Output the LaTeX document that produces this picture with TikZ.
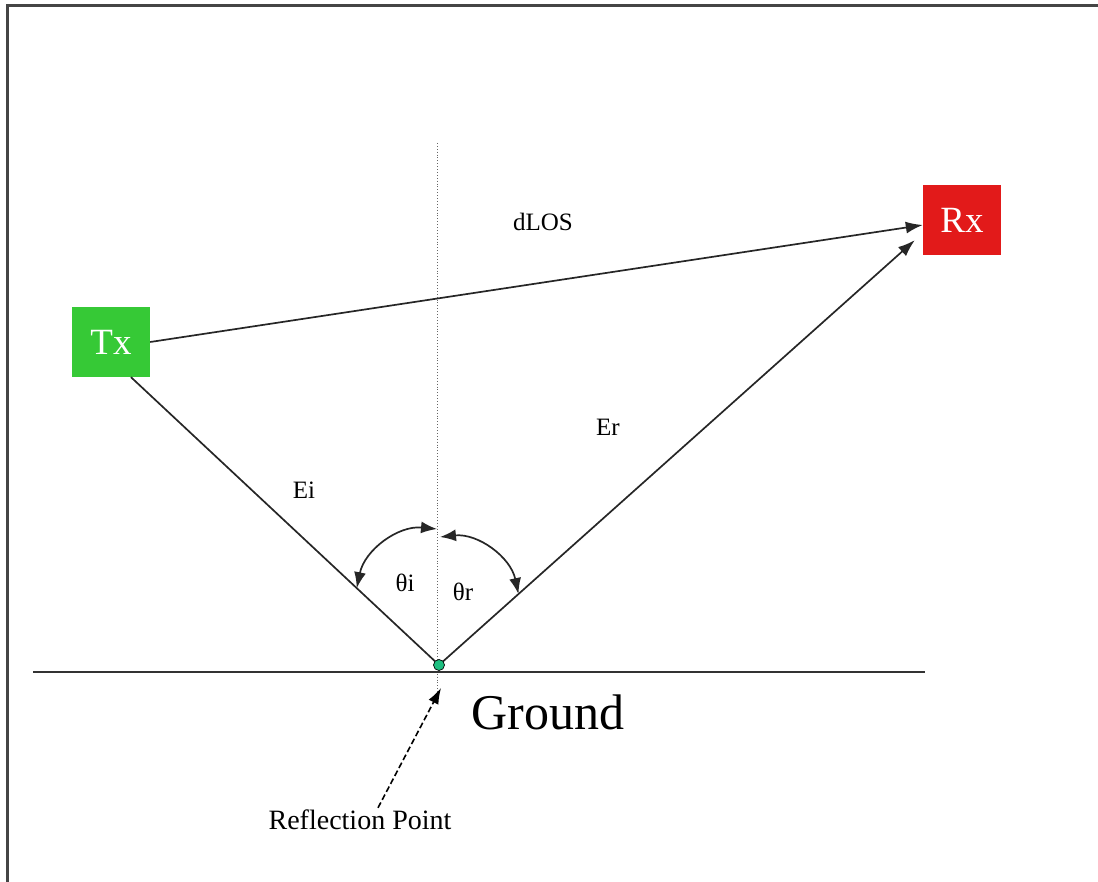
\documentclass[tikz,border=0pt]{standalone}
\usepackage{fontspec}
\setmainfont{Liberation Serif}
\usetikzlibrary{arrows.meta,positioning,calc}
\definecolor{txgreen}{HTML}{36C936}
\definecolor{rxred}{HTML}{E21A1A}
\definecolor{pointgreen}{HTML}{1DBF80}
\definecolor{framegray}{HTML}{454545}
\tikzset{
  antbox/.style={
    minimum width=78pt,
    minimum height=70pt,
    inner sep=0pt,
    text=white,
    font=\fontsize{37}{40}\selectfont
  },
  raylabel/.style={font=\fontsize{25}{28}\selectfont, inner sep=0pt},
  ray/.style={-{Latex[length=17pt,width=12pt]}, line width=1.7pt, draw=black!85},
  plainray/.style={line width=1.7pt, draw=black!85},
  anglearrow/.style={{Latex[length=16pt,width=12pt]}-{Latex[length=16pt,width=12pt]}, line width=1.7pt, draw=black!85, bend left=42},
  pointerarrow/.style={-{Latex[length=16pt,width=11pt]}, line width=1.6pt, dashed, dash pattern=on 6pt off 3pt},
  normalline/.style={draw=black!60, line width=0.9pt, dotted}
}
\begin{document}
\begin{tikzpicture}[x=1pt, y=-1pt]
\useasboundingbox (0,0) rectangle (1098,882);
\draw[framegray, line width=3pt] (7,882) -- (7,6) -- (1098,6);

\node[antbox, fill=txgreen] (tx) at (111,342) {Tx};
\node[antbox, fill=rxred] (rx) at (962,220) {Rx};

\coordinate (refl) at (439,665);
\coordinate (normtop) at (437,143);
\coordinate (normbot) at (437,692);
\coordinate (gleft) at (33,672);
\coordinate (gright) at (925,672);
\coordinate (txfoot) at ([xshift=20pt]tx.south);
\coordinate (rxfoot) at ([xshift=-8pt,yshift=15pt]rx.south west);

\draw[normalline] (normtop) -- (normbot);
\draw[line width=1.8pt, draw=black!80] (gleft) -- (gright);

\draw[ray] (tx.east) -- ([yshift=-5pt]rx.west);
\draw[plainray] (txfoot) -- (refl);
\draw[ray] (refl) -- (rxfoot);

\coordinate (inc) at ($(txfoot)!0.733!(refl)$);
\coordinate (ref) at ($(refl)!0.167!(rxfoot)$);
\coordinate (ntop1) at (437,529);
\coordinate (ntop2) at (440,537);
\draw[anglearrow] (inc) to (ntop1);
\draw[anglearrow] (ntop2) to (ref);

\filldraw[fill=pointgreen, draw=black, line width=0.7pt] (refl) circle (5.5pt);

\node[raylabel] (los) at (543,222) {dLOS};
\node[raylabel] (ei) at (304,490) {Ei};
\node[raylabel] (er) at (608,427) {Er};
\node[raylabel] (thi) at (405,583) {θi};
\node[raylabel] (thr) at (463,592) {θr};
\node[font=\fontsize{50}{56}\selectfont, inner sep=0pt] (ground) at (548,712) {Ground};
\node[font=\fontsize{28}{32}\selectfont, inner sep=0pt] (refltext) at (360,820) {Reflection Point};

\coordinate (dashtip) at (441,688);
\draw[pointerarrow] ([xshift=18pt,yshift=2pt]refltext.north) -- (dashtip);
\end{tikzpicture}
\end{document}
